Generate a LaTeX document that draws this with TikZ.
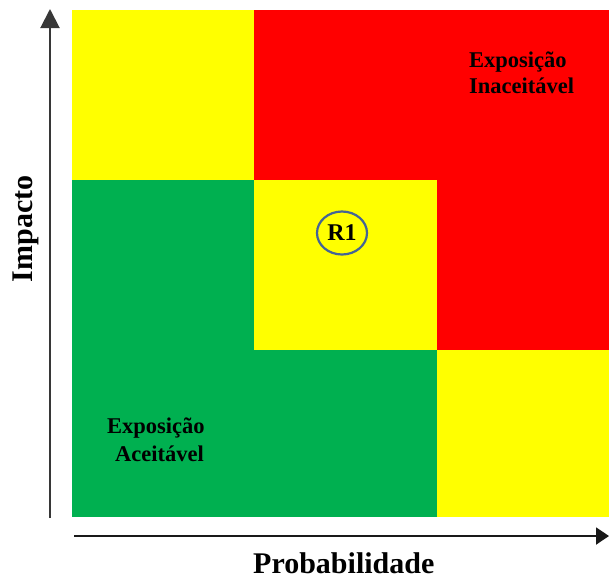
\documentclass[tikz,border=0pt]{standalone}
\usepackage{fontspec}
\setmainfont{Liberation Serif}
\usetikzlibrary{arrows.meta,shapes.geometric}
\definecolor{myyellow}{RGB}{255,255,0}
\definecolor{myred}{RGB}{255,0,0}
\definecolor{mygreen}{RGB}{0,176,80}
\definecolor{ringblue}{RGB}{68,100,150}
\definecolor{axisgray}{RGB}{55,55,55}
\tikzset{
  lbl/.style={inner sep=0pt, anchor=base west, font=\bfseries\fontsize{22.5}{24}\selectfont},
  axislbl/.style={inner sep=0pt, font=\bfseries\fontsize{30}{32}\selectfont},
  axisline/.style={line width=2pt, draw=axisgray},
  ring/.style={draw=ringblue, line width=2.2pt, ellipse, inner sep=0pt,
      minimum width=50pt, minimum height=43pt, font=\bfseries\fontsize{24}{26}\selectfont}
}
\begin{document}
\begin{tikzpicture}[x=1pt,y=-1pt]
\useasboundingbox (0,0) rectangle (609,579);
% grid cells
\fill[myyellow] (72,10) rectangle (254,180);
\fill[myred] (254,10) rectangle (609,180);
\fill[mygreen] (72,180) rectangle (254,350);
\fill[myyellow] (254,180) rectangle (437,350);
\fill[myred] (437,180) rectangle (609,350);
\fill[mygreen] (72,350) rectangle (437,517);
\fill[myyellow] (437,350) rectangle (609,517);
% axes
\coordinate (ybot) at (50,518);
\coordinate (ytop) at (50,9);
\coordinate (xleft) at (74,536);
\coordinate (xright) at (609,536);
\draw[axisline, -{Triangle[length=19pt,width=19pt]}] (ybot) -- (ytop);
\draw[line width=2pt, black!90, -{Triangle[length=13pt,width=17pt]}] (xleft) -- (xright);
% labels
\node[lbl] (e1) at (469,67) {Exposição};
\node[lbl] (i1) at (469,93) {Inaceitável};
\node[lbl] (e2) at (107,433) {Exposição};
\node[lbl] (a2) at (115,461) {Aceitável};
\node[ring] (r1) at (342,233) {R1};
\node[axislbl, anchor=base west] (px) at (253,573) {Probabilidade};
\node[axislbl, rotate=90] (py) at (26,229) {Impacto};
\end{tikzpicture}
\end{document}
